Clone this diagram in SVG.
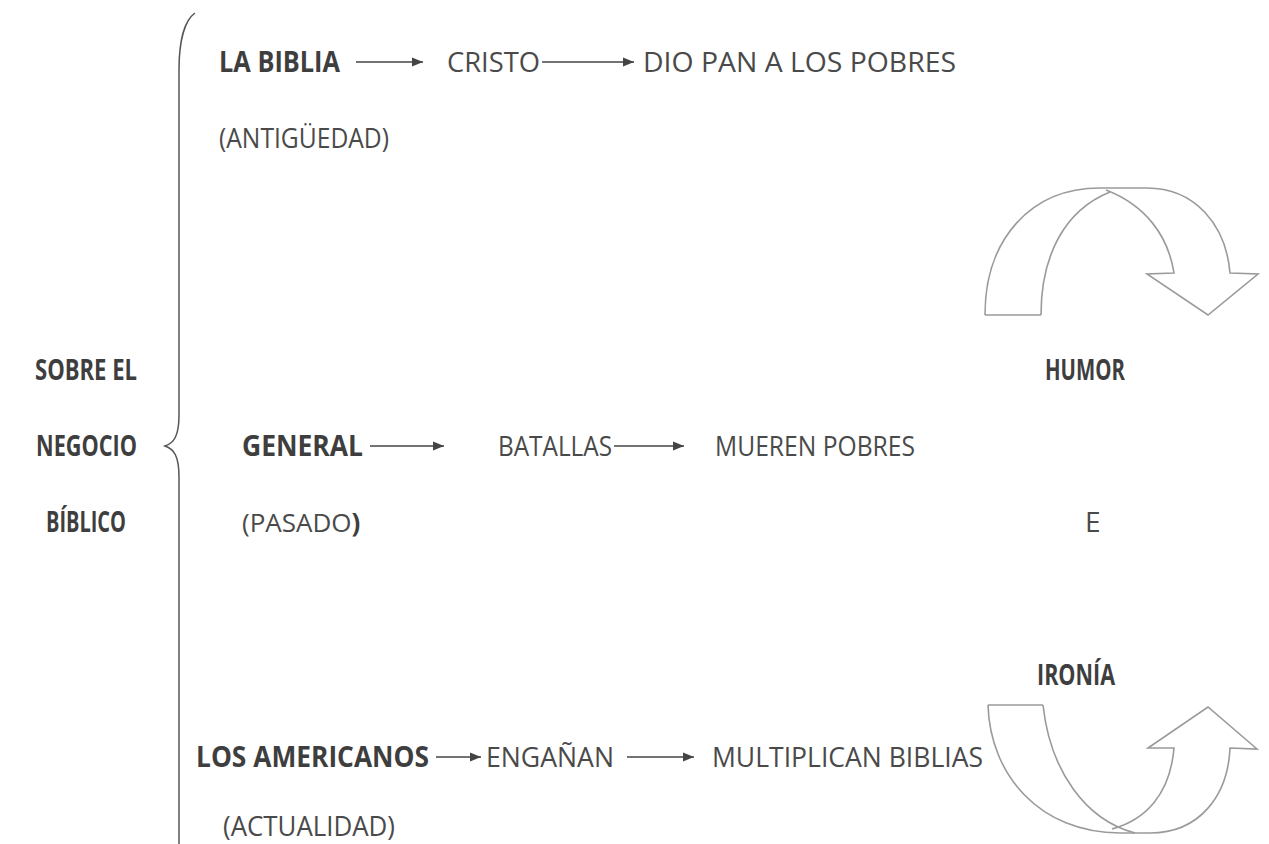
<svg xmlns="http://www.w3.org/2000/svg" width="1269" height="844" viewBox="0 0 1269 844">
<defs>
<style>
text{font-family:"Open Sans","Liberation Sans",sans-serif;font-size:28px;fill:#4a4a4a}
.b{font-weight:bold;fill:#3e3e3e}
.con{stroke:#444;stroke-width:1.4;fill:none}
.brace{stroke:#555;stroke-width:1.5;fill:none}
.curve{stroke:#9a9a9a;stroke-width:1.6;fill:none;stroke-linejoin:miter}
</style>
<marker id="ah" markerWidth="12" markerHeight="10" refX="11" refY="5" orient="auto" markerUnits="userSpaceOnUse">
<path d="M0,0.5 L11,5 L0,9.5 Z" fill="#444"/>
</marker>
</defs>
<rect width="1269" height="844" fill="#ffffff"/>

<g id="brace"><path class="brace" d="M195,13 C185,20 179,40 179,70 L179,415 C179,436 174,443 165,446 C174,449 179,456 179,477 L179,844"/></g>

<g id="title">
<text class="b" x="35" y="380" textLength="102" lengthAdjust="spacingAndGlyphs">SOBRE EL</text>
<text class="b" x="36" y="456" textLength="101" lengthAdjust="spacingAndGlyphs">NEGOCIO</text>
<text class="b" x="46" y="532" textLength="80" lengthAdjust="spacingAndGlyphs">BÍBLICO</text>
</g>

<g id="row1">
<text class="b" x="219" y="72" textLength="121" lengthAdjust="spacingAndGlyphs">LA BIBLIA</text>
<text x="447" y="72" textLength="93" lengthAdjust="spacingAndGlyphs">CRISTO</text>
<text x="643" y="72" textLength="313" lengthAdjust="spacingAndGlyphs">DIO PAN A LOS POBRES</text>
<text x="219" y="148" textLength="170" lengthAdjust="spacingAndGlyphs">(ANTIGÜEDAD)</text>
</g>

<g id="row2">
<text class="b" x="242" y="456" textLength="121" lengthAdjust="spacingAndGlyphs">GENERAL</text>
<text x="498" y="456" textLength="114" lengthAdjust="spacingAndGlyphs">BATALLAS</text>
<text x="715" y="456" textLength="200" lengthAdjust="spacingAndGlyphs">MUEREN POBRES</text>
<text x="242" y="532" style="font-size:26px">(PASADO<tspan class="b">)</tspan></text>
</g>

<g id="row3">
<text class="b" x="196" y="767" textLength="233" lengthAdjust="spacingAndGlyphs">LOS AMERICANOS</text>
<text x="486" y="767" textLength="128" lengthAdjust="spacingAndGlyphs">ENGAÑAN</text>
<text x="712" y="767" textLength="271" lengthAdjust="spacingAndGlyphs">MULTIPLICAN BIBLIAS</text>
<text x="223" y="836" textLength="172" lengthAdjust="spacingAndGlyphs">(ACTUALIDAD)</text>
</g>

<g id="connectors">
<line class="con" x1="356" y1="62" x2="423" y2="62" marker-end="url(#ah)"/>
<line class="con" x1="542" y1="62" x2="634" y2="62" marker-end="url(#ah)"/>
<line class="con" x1="370" y1="446" x2="444" y2="446" marker-end="url(#ah)"/>
<line class="con" x1="614" y1="446" x2="684" y2="446" marker-end="url(#ah)"/>
<line class="con" x1="436" y1="757" x2="481" y2="757" marker-end="url(#ah)"/>
<line class="con" x1="627" y1="757" x2="694" y2="757" marker-end="url(#ah)"/>
</g>

<g id="humor-arrow">
<path class="curve" d="M985,315 L1041,315"/>
<path class="curve" d="M985,315 C985,240 1030,188 1100,188 L1147,188 C1195,188 1226,225 1230,273 L1258,274 L1208,315 L1147,274 L1174,273 C1168,235 1145,205 1106,190"/>
<path class="curve" d="M1041,315 C1041,255 1065,210 1110,192"/>
</g>

<g id="ironia-arrow">
<path class="curve" d="M988,705 L1043,705"/>
<path class="curve" d="M988,705 C990,775 1040,833 1120,833 L1150,833 C1200,833 1228,795 1230,748 L1257,749 L1208,707 L1148,748 L1174,748 C1170,795 1145,820 1112,829"/>
<path class="curve" d="M1043,705 C1050,770 1085,820 1135,833"/>
</g>

<g id="labels-right">
<text class="b" x="1045" y="380" textLength="80" lengthAdjust="spacingAndGlyphs">HUMOR</text>
<text x="1085" y="532">E</text>
<text class="b" x="1037" y="685" textLength="78" lengthAdjust="spacingAndGlyphs">IRONÍA</text>
</g>
</svg>
